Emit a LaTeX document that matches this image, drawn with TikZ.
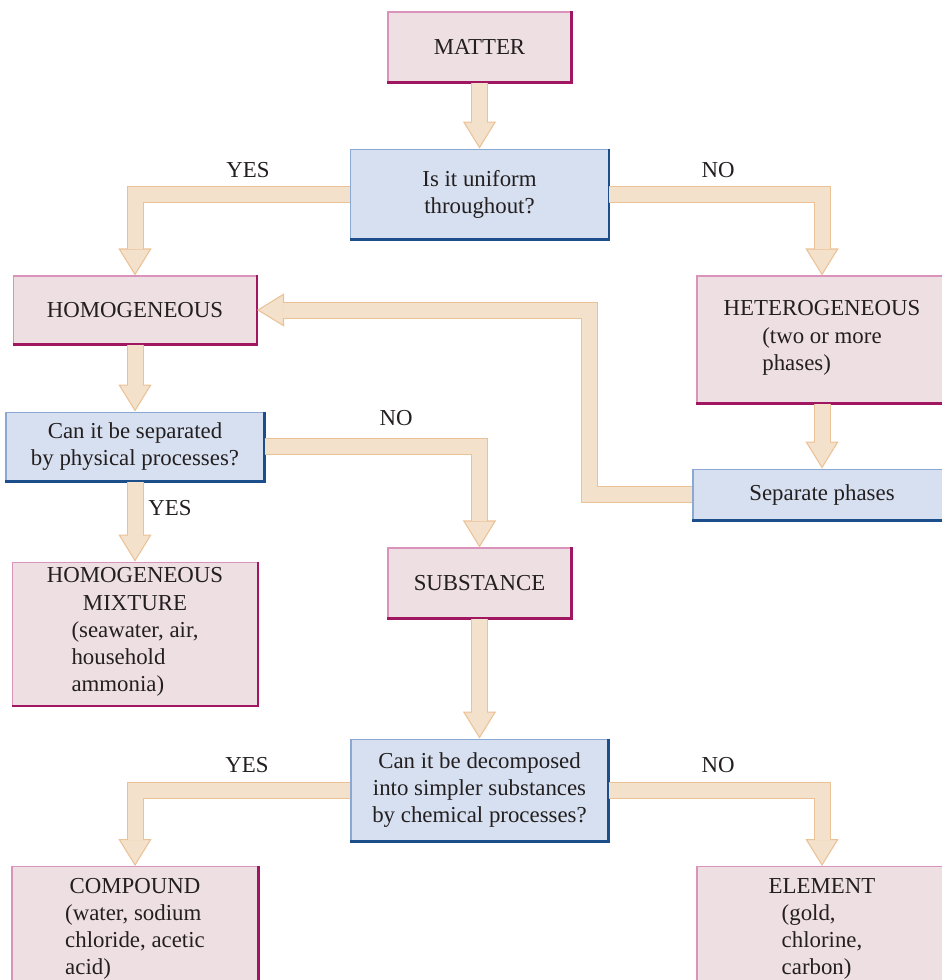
\documentclass[tikz,border=0pt]{standalone}
\usepackage{fontspec}
\setmainfont{Liberation Serif}
\usepackage{xcolor}
\usetikzlibrary{positioning,arrows.meta}
\definecolor{ink}{HTML}{231F20}
\definecolor{pinkfill}{HTML}{EEDFE3}
\definecolor{pinkedge}{HTML}{DA93BA}
\definecolor{pinkdark}{HTML}{A01660}
\definecolor{bluefill}{HTML}{D7E0F0}
\definecolor{blueedge}{HTML}{8BA8D2}
\definecolor{bluedark}{HTML}{1B4E8A}
\definecolor{bandfill}{HTML}{F4E1CC}
\definecolor{bandedge}{HTML}{EBC296}
\tikzset{pinkbox/.style={draw=pinkedge, fill=pinkfill, line width=0.6pt, align=center, inner sep=0pt,
  append after command={(\tikzlastnode.north east) edge[draw=pinkdark, line width=1.3pt, to path={|- (\tikztotarget)}] (\tikzlastnode.south west)}}}
\tikzset{bluebox/.style={draw=blueedge, fill=bluefill, line width=0.6pt, align=center, inner sep=0pt,
  append after command={(\tikzlastnode.north east) edge[draw=bluedark, line width=1.3pt, to path={|- (\tikztotarget)}] (\tikzlastnode.south west)}}}
\tikzset{bandout/.style={line width=0.34cm, draw=bandedge, -{Triangle[width=0.66cm, length=0.54cm, fill=bandfill, line width=0.6pt]}}}
\tikzset{bandin/.style={line width=0.30cm, draw=bandfill, shorten >=0.52cm}}
% left-aligned block inside a centred box
\newcommand{\eg}[1]{\begin{tabular}[t]{@{}l@{}}#1\end{tabular}}
% wide arrow: outline first, then the filling
\newcommand{\bandarrow}[1]{\draw[bandout] #1; \draw[bandin] #1;}

\begin{document}
\begin{tikzpicture}[every node/.style={font=\fontsize{13}{15.4}\selectfont, text=ink}]
  \useasboundingbox (0,0) rectangle (18.82,-19.60);

  % top: the first question
  \node[pinkbox, minimum width=3.66cm, minimum height=1.40cm] (matter) at (9.59,-0.94) {MATTER};
  \node[bluebox, minimum width=5.16cm, minimum height=1.80cm] (uniform) [below=1.32cm of matter] {Is it uniform\\throughout?};

  % left column
  \node[pinkbox, minimum width=4.86cm, minimum height=1.36cm] (homo) at (2.70,-6.20) {HOMOGENEOUS};
  \node[bluebox, minimum width=5.16cm, minimum height=1.38cm] (sep) [below=1.34cm of homo] {Can it be separated\\by physical processes?};
  \node[pinkbox, minimum width=4.90cm, minimum height=2.86cm] (mix) [below=1.60cm of sep]
    {HOMOGENEOUS\\MIXTURE\\\eg{(seawater, air,\\household\\ammonia)}};

  % right column
  \node[pinkbox, minimum width=5.00cm, minimum height=2.54cm] (hetero) at (16.44,-6.79)
    {HETEROGENEOUS\\\eg{(two or more\\phases)}};
  \node[bluebox, minimum width=5.16cm, minimum height=1.02cm] (phases) [below=1.30cm of hetero] {Separate phases};

  % middle and bottom
  \node[pinkbox, minimum width=3.66cm, minimum height=1.40cm] (subst) at (9.59,-11.66) {SUBSTANCE};
  \node[bluebox, minimum width=5.14cm, minimum height=2.04cm] (decomp) [below=2.40cm of subst]
    {Can it be decomposed\\into simpler substances\\by chemical processes?};
  \node[pinkbox, minimum width=4.92cm, inner ysep=0.24cm, anchor=north] (compound) at (2.70,-17.32)
    {COMPOUND\\\eg{(water, sodium\\chloride, acetic\\acid)}\\[2mm]};
  \node[pinkbox, minimum width=5.00cm, inner ysep=0.24cm, anchor=north] (element) at (16.44,-17.32)
    {ELEMENT\\\eg{(gold,\\chlorine,\\carbon)}\\[2mm]};

  % arrows
  \bandarrow{(matter) -- (uniform)}
  \bandarrow{(uniform.west) -| (homo.north)}
  \bandarrow{(uniform.east) -| (hetero.north)}
  \bandarrow{(homo) -- (sep)}
  \bandarrow{(sep.east) -| (subst.north)}
  \bandarrow{(sep) -- (mix)}
  \bandarrow{(hetero) -- (phases)}
  \bandarrow{(phases.west) -- ++(-2.06,0) |- (homo.east)}
  \bandarrow{(subst) -- (decomp)}
  \bandarrow{(decomp.west) -| (compound.north)}
  \bandarrow{(decomp.east) -| (element.north)}

  % answers
  \node (yes1) at (4.96,-3.40) {YES};
  \node (no1) at (14.36,-3.40) {NO};
  \node (no2) at (7.92,-8.36) {NO};
  \node (yes2) at (3.40,-10.16) {YES};
  \node (yes3) at (4.94,-15.30) {YES};
  \node (no3) at (14.36,-15.30) {NO};
\end{tikzpicture}
\end{document}
